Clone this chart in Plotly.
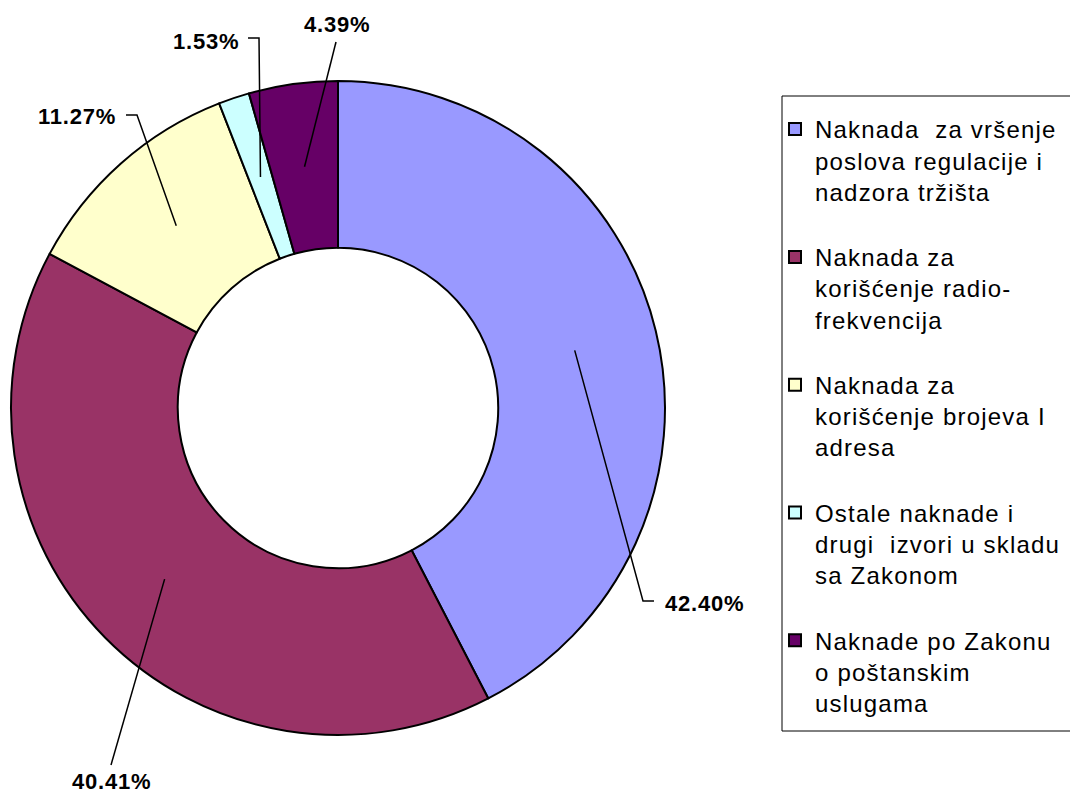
import math
import plotly.graph_objects as go

# ---------------- data ----------------
categories = [
    "Naknada  za vršenje<br>poslova regulacije i<br>nadzora tržišta",
    "Naknada za<br>korišćenje radio-<br>frekvencija",
    "Naknada za<br>korišćenje brojeva I<br>adresa",
    "Ostale naknade i<br>drugi  izvori u skladu<br>sa Zakonom",
    "Naknade po Zakonu<br>o poštanskim<br>uslugama",
]
values = [42.40, 40.41, 11.27, 1.53, 4.39]
value_labels = ["42.40%", "40.41%", "11.27%", "1.53%", "4.39%"]

# ---------------- style / layout ----------------
colors = ["#9999FF", "#993366", "#FFFFCC", "#CCFFFF", "#660066"]
W, H = 1070, 797
CX, CY, R_OUT = 338, 408, 327      # donut centre / radius in px
HOLE = 0.49
FONT = "Arial, Liberation Sans, sans-serif"
LEGEND_BOX = (782, 96, 1095, 731)  # legend frame (px)

# label layout (pixels): elbow point (or None), line end, label centre
label_layout = [
    dict(elbow=(643, 601), end=(654, 601), text=(704, 603)),
    dict(elbow=None, end=(111, 765), text=(111, 781)),
    dict(elbow=(137, 115), end=(126, 115), text=(77, 116)),
    dict(elbow=(259, 38), end=(248, 38), text=(206, 41)),
    dict(elbow=None, end=(336, 42), text=(337, 25)),
]


def px(x):
    return x / W


def py(y):
    return 1 - y / H


def spaced(txt, ls):
    return "<br>".join(f'<span style="letter-spacing:{ls}px">{line}</span>'
                       for line in txt.split("<br>"))


fig = go.Figure()
fig.add_trace(go.Pie(
    labels=[spaced(c, 1.2) + "<br>\u00a0" for c in categories],
    values=values,
    sort=False,
    direction="clockwise",
    rotation=0,
    hole=HOLE,
    marker=dict(colors=colors, line=dict(color="black", width=2)),
    textinfo="none",
    hoverinfo="percent",
    domain=dict(x=[px(CX - R_OUT), px(CX + R_OUT)],
                y=[py(CY + R_OUT), py(CY - R_OUT)]),
))

# leader lines + value labels computed from slice angles
total = sum(values)
r_mid = R_OUT * (1 + HOLE) / 2
shapes = []
annotations = []
cum = 0.0
for v, lab, lay in zip(values, value_labels, label_layout):
    mid = (cum + v / 2) / total * 2 * math.pi
    cum += v
    sx = CX + r_mid * math.sin(mid)
    sy = CY - r_mid * math.cos(mid)
    pts = [(sx, sy)]
    if lay["elbow"] is not None:
        pts.append(lay["elbow"])
    pts.append(lay["end"])
    path = "M " + " L ".join(f"{px(x):.5f},{py(y):.5f}" for x, y in pts)
    shapes.append(dict(type="path", xref="paper", yref="paper", path=path,
                       line=dict(color="black", width=1.5)))
    tx, ty = lay["text"]
    annotations.append(dict(x=px(tx), y=py(ty), xref="paper", yref="paper",
                            text=f'<b><span style="letter-spacing:0.8px">{lab}</span></b>',
                            showarrow=False,
                            xanchor="center", yanchor="middle",
                            font=dict(family=FONT, size=22, color="black")))

# legend frame
bx0, by0, bx1, by1 = LEGEND_BOX
shapes.append(dict(type="rect", xref="paper", yref="paper", layer="below",
                   x0=px(bx0), x1=px(bx1), y0=py(by1), y1=py(by0),
                   line=dict(color="black", width=1), fillcolor="white"))

fig.update_layout(
    width=W, height=H,
    margin=dict(l=0, r=0, t=0, b=0, pad=0, autoexpand=False),
    paper_bgcolor="white",
    plot_bgcolor="white",
    shapes=shapes,
    annotations=annotations,
    showlegend=True,
    legend=dict(
        x=px(775), y=py(107), xanchor="left", yanchor="top",
        borderwidth=0, bgcolor="rgba(0,0,0,0)",
        font=dict(family=FONT, size=24, color="black"),
        valign="top", tracegroupgap=0,
    ),
)

fig.write_html("out.html",
               config={"displayModeBar": False},
               post_script="document.body.style.margin='0';"
                           "document.body.style.overflow='hidden';")
